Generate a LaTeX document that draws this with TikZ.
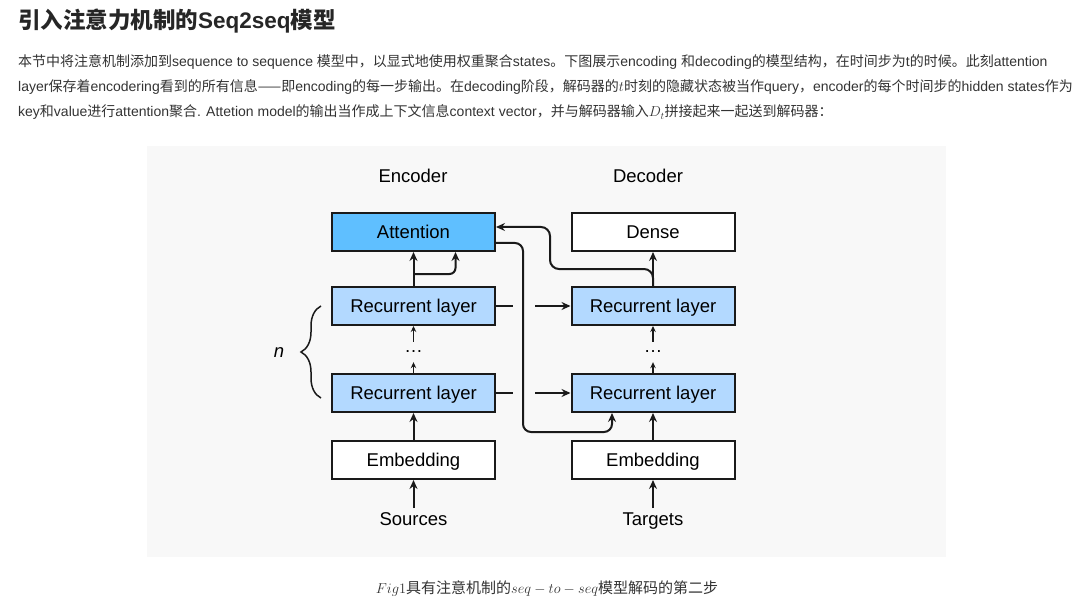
\documentclass[tikz,border=0pt]{standalone}
\usepackage{fontspec}
\setmainfont{Liberation Sans}
\newfontfamily\cjk{Noto Sans CJK SC}
\newcommand\zh[1]{{\cjk #1}}
\usetikzlibrary{arrows.meta,decorations.pathreplacing,calc}
\definecolor{txt}{HTML}{333333}
\definecolor{bggray}{HTML}{F8F8F8}
\definecolor{attblue}{HTML}{5FBFFF}
\definecolor{rnnblue}{HTML}{B3D9FF}
\definecolor{edge}{HTML}{1A1A1A}
\tikzset{
  box/.style={draw=edge, line width=2pt, minimum width=163pt, minimum height=38pt, inner sep=0pt, text height=17pt, text depth=3.8pt, font=\fontsize{18.5}{20}\selectfont},
  lbl/.style={font=\fontsize{18.5}{20}\selectfont, inner sep=0pt, text height=13.3pt, text depth=0pt},
  arr/.style={draw=edge, line width=2pt, -{Stealth[length=9pt,width=8pt,inset=3pt]}},
  smallarr/.style={draw=edge, line width=1.8pt, -{Stealth[length=6pt,width=5.5pt,inset=2pt]}},
  ln/.style={draw=edge, line width=2pt},
  para/.style={anchor=base west, inner sep=0pt, text=txt, font=\fontsize{14}{16}\selectfont},
}
\begin{document}
\begin{tikzpicture}[x=1pt,y=-1pt]
\useasboundingbox (0,0) rectangle (1087,604);
\fill[white] (0,0) rectangle (1087,604);
% title
\node[anchor=base west, inner sep=0pt, text=black!85, font=\fontsize{22.5}{24}\selectfont\bfseries] (title) at (18,29) {\zh{引入注意力机制的}Seq2seq\zh{模型}};
% paragraph
\node[para] (p1) at (18,67) {\zh{本节中将注意机制添加到}sequence to sequence \zh{模型中，以显式地使用权重聚合}states\zh{。下图展示}encoding \zh{和}decoding\zh{的模型结构，在时间步为}t\zh{的时候。此刻}attention};
\node[para] (p2) at (18,92) {layer\zh{保存着}encodering\zh{看到的所有信息——即}encoding\zh{的每一步输出。在}decoding\zh{阶段，解码器的}$t$\zh{时刻的隐藏状态被当作}query\zh{，}encoder\zh{的每个时间步的}hidden states\zh{作为}};
\node[para] (p3) at (18,117) {key\zh{和}value\zh{进行}attention\zh{聚合}. Attetion model\zh{的输出当作成上下文信息}context vector\zh{，并与解码器输入}$D_t$\zh{拼接起来一起送到解码器：}};
% diagram background
\fill[bggray] (147,146) rectangle (946,557);
\node[lbl] (enclbl) at (413,176) {Encoder};
\node[lbl] (declbl) at (648,176) {Decoder};
\node[box, fill=attblue] (att) at (413.5,232) {Attention};
\node[box, fill=white] (dense) at (653,232) {Dense};
\node[box, fill=rnnblue] (erl1) at (413.5,306) {Recurrent layer};
\node[box, fill=rnnblue] (erl2) at (413.5,393) {Recurrent layer};
\node[box, fill=rnnblue] (drl1) at (653,306) {Recurrent layer};
\node[box, fill=rnnblue] (drl2) at (653,393) {Recurrent layer};
\node[box, fill=white] (eemb) at (413.5,460) {Embedding};
\node[box, fill=white] (demb) at (653,460) {Embedding};
\node[lbl] (src) at (413.5,519) {Sources};
\node[lbl] (tgt) at (653,519) {Targets};
\node[inner sep=0pt, font=\fontsize{18.5}{20}\selectfont, minimum height=20pt] (edots) at (413.5,352) {\ldots};
\node[inner sep=0pt, font=\fontsize{18.5}{20}\selectfont, minimum height=20pt] (ddots) at (653,352) {\ldots};
\node[lbl, font=\fontsize{18.5}{20}\selectfont\itshape, text height=9.5pt] (n) at (279,353) {n};
% brace
\draw[edge, line width=1.5pt, decorate, decoration={brace, amplitude=20pt}] (321,398) -- (321,306);
% vertical arrows
\draw[arr, shorten <=4pt] (src.north) -- (eemb.south);
\draw[arr, shorten <=4pt] (tgt.north) -- (demb.south);
\draw[arr] (eemb.north) -- (erl2.south);
\draw[arr] (demb.north) -- (drl2.south);
\draw[smallarr] (erl2.north) -- (edots.south);
\draw[smallarr] (edots.north) -- (erl1.south);
\draw[smallarr] (drl2.north) -- (ddots.south);
\draw[smallarr] (ddots.north) -- (drl1.south);
% encoder to attention
\coordinate (esplit) at (413.5,274);
\draw[ln] (erl1.north) -- (esplit);
\draw[arr] (esplit) -- (att.south);
\draw[arr, rounded corners=6pt] (esplit) -| ([xshift=42pt]att.south);
% decoder to dense and attention query
\draw[arr] (drl1.north) -- (dense.south);
\draw[arr, rounded corners=9pt] (drl1.north) -- (653,269) -- (550,269) -- (550,227) -- ([yshift=5pt]att.east);
% context from attention to decoder
\draw[arr, rounded corners=8pt] ([yshift=-11pt]att.east) -- (523,243) -- (523,432) -- (612,432) -- ([xshift=-41pt]drl2.south);
% encoder state to decoder
\draw[ln] (erl1.east) -- ++(17,0);
\draw[arr] (erl1.east) ++(39,0) -- (drl1.west);
\draw[ln] (erl2.east) -- ++(17,0);
\draw[arr] (erl2.east) ++(39,0) -- (drl2.west);
% caption
\node[anchor=base, inner sep=0pt, text=txt, font=\fontsize{15}{17}\selectfont] (cap) at (547,593) {$Fig1$\zh{具有注意机制的}$seq-to-seq$\zh{模型解码的第二步}};
\end{tikzpicture}
\end{document}
